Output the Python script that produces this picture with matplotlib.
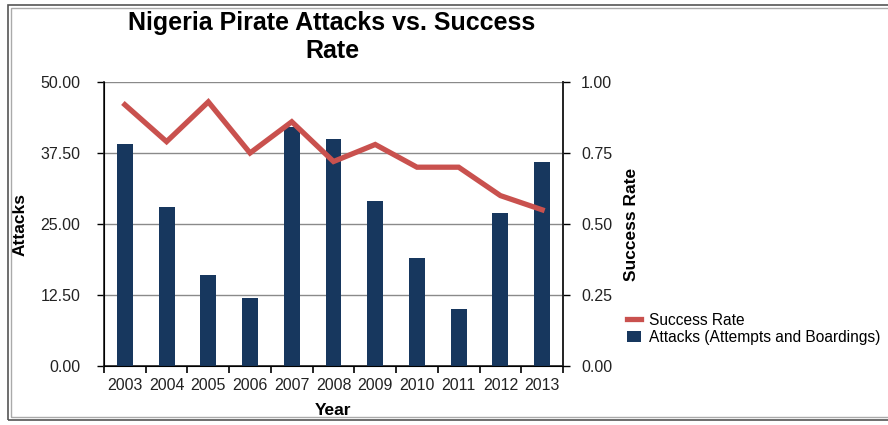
import matplotlib.pyplot as plt
import numpy as np
from matplotlib.patches import Rectangle

plt.rcParams['font.family'] = ['Liberation Sans', 'DejaVu Sans']

# data
years = ['2003', '2004', '2005', '2006', '2007', '2008', '2009', '2010', '2011', '2012', '2013']
attacks = [39, 28, 16, 12, 42, 40, 29, 19, 10, 27, 36]
success_rate = [0.92, 0.79, 0.93, 0.75, 0.86, 0.72, 0.78, 0.70, 0.70, 0.60, 0.55]
left_ticks = [0, 12.5, 25, 37.5, 50]
right_ticks = [0, 0.25, 0.5, 0.75, 1.0]

bar_col = '#17375E'
line_col = '#C9514E'
fs = 11.5

fig = plt.figure(figsize=(8.88, 4.25), dpi=100)
ax = fig.add_axes([104 / 888, 1 - 366 / 425, (563 - 104) / 888, (366 - 82) / 425])

x = np.arange(len(years))
bars = ax.bar(x, attacks, width=0.38, color=bar_col, zorder=3,
              label='Attacks (Attempts and Boardings)')
ax.set_xlim(-0.5, len(years) - 0.5)
ax.set_ylim(0, 50)
ax.set_yticks(left_ticks)
ax.set_yticklabels(['%.2f' % v for v in left_ticks], fontsize=fs, color='#222222')
ax.yaxis.grid(True, color='#8a8a8a', lw=1, zorder=0)
ax.set_axisbelow(True)

# category labels centred, ticks between categories
ax.set_xticks(x)
ax.set_xticklabels(years, fontsize=fs, color='#222222')
ax.tick_params(axis='x', length=0, pad=9)
ax.set_xticks(np.arange(-0.5, len(years)), minor=True)
ax.tick_params(axis='x', which='minor', length=5, width=1.2, direction='out')
ax.tick_params(axis='y', length=5, width=1, direction='out', pad=12)

ax.spines['top'].set_visible(False)
for s in ['left', 'bottom', 'right']:
    ax.spines[s].set_color('#222222')
    ax.spines[s].set_linewidth(1.2)

ax.set_ylabel('Attacks', fontsize=12.5, fontweight='bold')
ax.yaxis.set_label_coords(-0.166, 0.5)
ax.set_xlabel('Year', fontsize=12.5, fontweight='bold', labelpad=7)

ax2 = ax.twinx()
line, = ax2.plot(x, success_rate, color=line_col, lw=3.8, zorder=4,
                 solid_joinstyle='miter', label='Success Rate')
ax2.set_ylim(0, 1)
ax2.set_yticks(right_ticks)
ax2.set_yticklabels(['%.2f' % v for v in right_ticks], fontsize=fs, color='#222222')
ax2.tick_params(axis='y', length=5, width=1, direction='out', pad=8)
ax2.spines['top'].set_visible(False)
ax2.spines['right'].set_color('#222222')
ax2.spines['right'].set_linewidth(1.2)
ax2.set_ylabel('Success Rate', fontsize=12.5, fontweight='bold')
ax2.yaxis.set_label_coords(1.133, 0.5)

fig.text(332 / 888, 1 - 37 / 425, 'Nigeria Pirate Attacks vs. Success\nRate',
         ha='center', va='center', fontsize=18, fontweight='bold', linespacing=1.25)

fig.legend([line, bars], ['Success Rate', 'Attacks (Attempts and Boardings)'],
           loc='center left', bbox_to_anchor=(619 / 888, 1 - 329 / 425),
           frameon=False, fontsize=11.2, handlelength=0.9, handletextpad=0.5,
           labelspacing=0.15, borderpad=0)

# grey double frame round the picture
fig.patches.append(Rectangle((8 / 888, 5 / 425), 1.1, 1 - 10 / 425, transform=fig.transFigure,
                             fill=False, ec='#555555', lw=1.2))
fig.patches.append(Rectangle((11 / 888, 8 / 425), 1.1, 1 - 16 / 425, transform=fig.transFigure,
                             fill=False, ec='#aaaaaa', lw=1.0))

fig.savefig('out.png', dpi=100)
